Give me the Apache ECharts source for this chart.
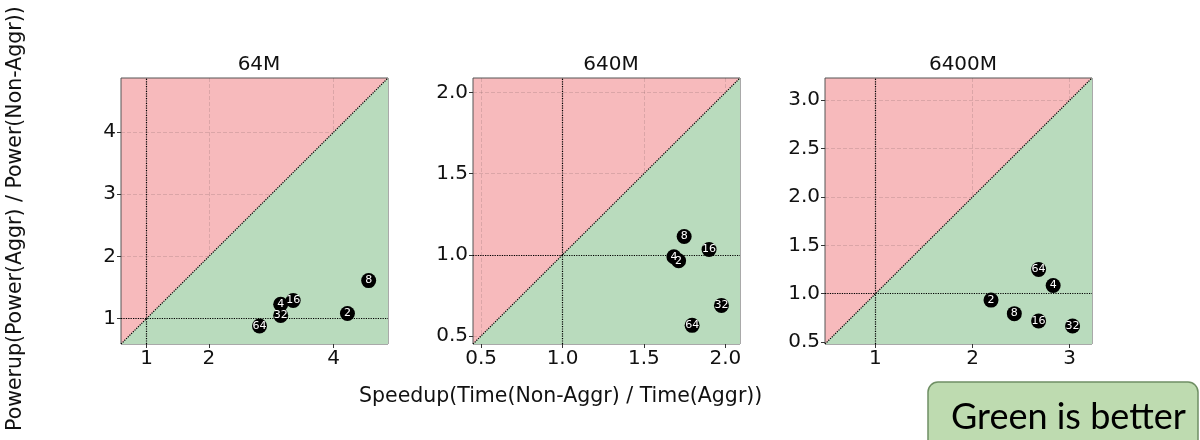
<!DOCTYPE html>
<html>
<head>
<meta charset="utf-8">
<script src="https://cdn.jsdelivr.net/npm/echarts@6/dist/echarts.min.js"></script>
<style>
  html, body { margin: 0; padding: 0; background: #fff; }
  #chart { width: 1200px; height: 440px; }
</style>
</head>
<body>
<div id="chart"></div>
<script>
// panel data
const panelTitles = ['64M', '640M', '6400M'];
const axisMin = [0.59, 0.45, 0.48];
const axisMax = [4.87, 2.09, 3.23];
const xTicks = [[1, 2, 4], [0.5, 1.0, 1.5, 2.0], [1, 2, 3]];
const yTicks = [[1, 2, 3, 4], [0.5, 1.0, 1.5, 2.0], [0.5, 1.0, 1.5, 2.0, 2.5, 3.0]];
const xDecimals = [0, 1, 0];
const yDecimals = [0, 1, 1];

const labels64M = ['64', '32', '4', '16', '2', '8'];
const speedup64M = [2.81, 3.15, 3.15, 3.35, 4.22, 4.56];
const powerup64M = [0.88, 1.05, 1.23, 1.29, 1.08, 1.61];

const labels640M = ['64', '32', '8', '16', '4', '2'];
const speedup640M = [1.796, 1.976, 1.747, 1.90, 1.684, 1.713];
const powerup640M = [0.565, 0.688, 1.113, 1.033, 0.988, 0.963];

const labels6400M = ['2', '8', '16', '32', '4', '64'];
const speedup6400M = [2.19, 2.43, 2.68, 3.03, 2.83, 2.68];
const powerup6400M = [0.934, 0.794, 0.718, 0.666, 1.085, 1.25];

const pointLabels = [labels64M, labels640M, labels6400M];
const speedups = [speedup64M, speedup640M, speedup6400M];
const powerups = [powerup64M, powerup640M, powerup6400M];

const gridLefts = [121, 473, 825];
const FONT = 'DejaVu Sans';
const RED = '#f7babc';
const GREEN = '#b9dbbd';

const chart = echarts.init(document.getElementById('chart'));

const grids = [], xAxes = [], yAxes = [], titles = [], series = [];

panelTitles.forEach((name, i) => {
    grids.push({
        left: gridLefts[i], top: 78, width: 267, height: 266,
        show: true, backgroundColor: RED,
        borderColor: '#555', borderWidth: 1
    });
    titles.push({
        text: name,
        left: gridLefts[i] + 133, top: 50, textAlign: 'center',
        textStyle: { fontFamily: FONT, fontSize: 20, fontWeight: 'normal', color: '#111' }
    });
    const axisBase = (ticks, dec) => ({
        type: 'value', gridIndex: i,
        min: axisMin[i], max: axisMax[i],
        axisLine: { show: false },
        axisTick: { show: true, length: 4, customValues: ticks, lineStyle: { color: '#333' } },
        axisLabel: {
            customValues: ticks,
            formatter: v => v.toFixed(dec),
            fontFamily: FONT, fontSize: 20, color: '#111', margin: 5
        },
        splitLine: { show: true, lineStyle: { type: 'dashed', color: 'rgba(0,0,0,0.11)', width: 1 } }
    });
    xAxes.push(axisBase(xTicks[i], xDecimals[i]));
    yAxes.push(axisBase(yTicks[i], yDecimals[i]));

    // diagonal y = x with the green region below it
    series.push({
        type: 'line', xAxisIndex: i, yAxisIndex: i,
        data: [[axisMin[i], axisMin[i]], [axisMax[i], axisMax[i]]],
        symbol: 'none', silent: true, z: 1,
        lineStyle: { color: '#000', width: 1.2, type: 'dotted' },
        areaStyle: { color: GREEN, opacity: 1, origin: 'start' }
    });

    series.push({
        type: 'scatter', xAxisIndex: i, yAxisIndex: i, z: 5,
        data: speedups[i].map((x, k) => ({ value: [x, powerups[i][k]], name: pointLabels[i][k] })),
        symbolSize: 15,
        itemStyle: { color: '#000', opacity: 1 },
        label: {
            show: true, position: 'inside', formatter: p => p.name,
            color: '#fff', fontFamily: FONT, fontSize: 11
        },
        markLine: {
            silent: true, symbol: ['none', 'none'], label: { show: false },
            lineStyle: { color: '#000', width: 1.2, type: 'dotted' },
            data: [{ xAxis: 1 }, { yAxis: 1 }]
        }
    });
});

chart.setOption({
    animation: false,
    title: titles,
    grid: grids,
    xAxis: xAxes,
    yAxis: yAxes,
    series: series,
    graphic: [
        {
            type: 'text', left: 359, top: 386,
            style: { text: 'Speedup(Time(Non-Aggr) / Time(Aggr))', font: '20.5px "DejaVu Sans"', fill: '#111' }
        },
        {
            type: 'text', x: 5, y: 431, rotation: Math.PI / 2,
            style: { text: 'Powerup(Power(Aggr) / Power(Non-Aggr))', font: '20.5px "DejaVu Sans"', fill: '#111' }
        },
        {
            type: 'rect', shape: { x: 928, y: 382, width: 270, height: 90, r: 10 },
            style: { fill: '#bedbb0', stroke: '#6f8f64', lineWidth: 1.5 }
        },
        {
            type: 'text', x: 951, y: 399,
            style: { text: 'Green is better', font: '36px Lato', fill: '#000' }
        }
    ]
});
</script>
</body>
</html>
